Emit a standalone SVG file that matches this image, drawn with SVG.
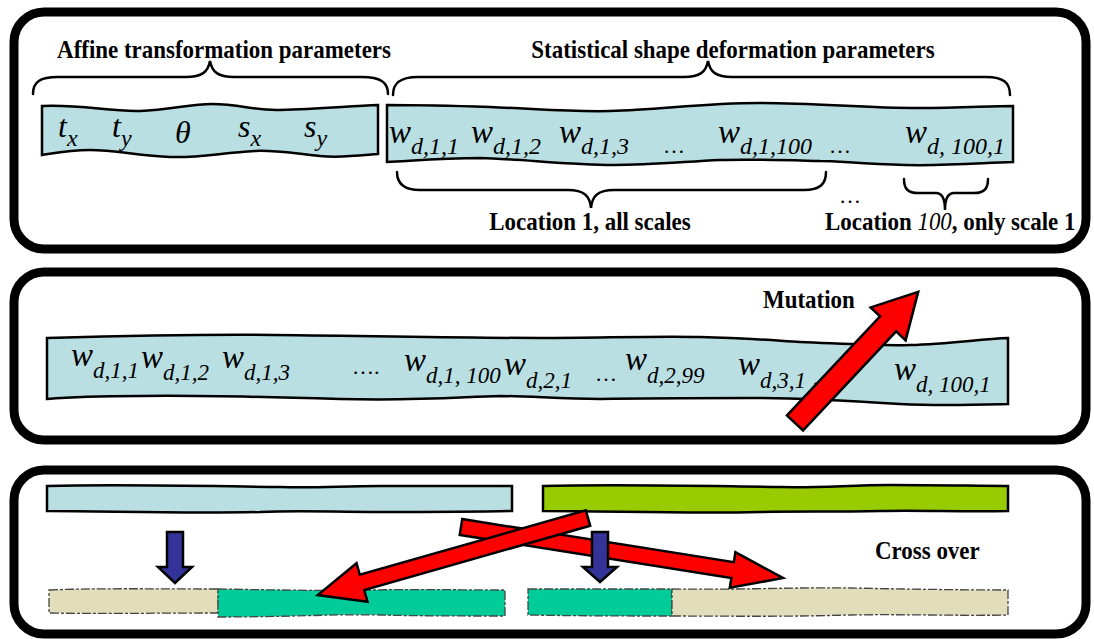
<svg xmlns="http://www.w3.org/2000/svg" width="1094" height="639" viewBox="0 0 1094 639">
  <style>
    .panel { fill: #ffffff; stroke: #000000; stroke-width: 9; }
    .band { fill: #B9DFE3; stroke: #000000; stroke-width: 2.5; stroke-linejoin: miter; }
    .green { fill: #99CC00; stroke: #000000; stroke-width: 2.5; }
    .teal { fill: #00CC99; stroke: #444444; stroke-width: 1.3; stroke-dasharray: 9 2 3 2; }
    .tan { fill: #E2DEBB; stroke: #444444; stroke-width: 1.3; stroke-dasharray: 9 2 3 2; }
    .brace { fill: none; stroke: #000000; stroke-width: 2.5; stroke-linecap: round; }
    .red { fill: #FF0000; stroke: #000000; stroke-width: 2.5; stroke-linejoin: miter; }
    .blue { fill: #333399; stroke: #000000; stroke-width: 2.5; stroke-linejoin: miter; }
    .lbl { font-family: "Liberation Serif", "Times New Roman", serif; font-weight: bold; font-size: 25.5px; fill: #000000; }
    .m0 { font-family: "Liberation Serif", "Times New Roman", serif; font-style: italic; font-size: 32px; fill: #000000; }
    .m1 { font-family: "Liberation Serif", "Times New Roman", serif; font-style: italic; font-size: 33px; fill: #000000; }
    .s0 { font-size: 24px; }
    .s1 { font-size: 24px; }
    .s2 { font-size: 23px; }
    .dots { font-family: "Liberation Serif", "Times New Roman", serif; font-size: 22px; fill: #000000; }
  </style>

  <!-- Panel 1: chromosome layout -->
  <g id="panel-layout">
    <rect class="panel" x="14" y="12" width="1072" height="237" rx="30" ry="30"/>
    <text class="lbl" transform="translate(224,58) scale(0.9,1)" text-anchor="middle">Affine transformation parameters</text>
    <text class="lbl" transform="translate(733,58) scale(0.9,1)" text-anchor="middle">Statistical shape deformation parameters</text>
    <path class="brace" d="M33,94 C33,82 40,77 58,77 L186,77 C202,77 208,72 210,61 C212,72 218,77 234,77 L362,77 C380,77 388,82 388,94"/>
    <path class="brace" d="M393,95 C393,83 400,77 418,77 L684,77 C700,77 706,72 708,61 C710,72 716,77 732,77 L986,77 C1004,77 1010,83 1010,95"/>
  </g>

  <g id="affine-band">
    <path class="band" d="M42,106 C80,104 110,112 140,111 C170,110 190,104 212,104 C240,104 255,111 280,110 C320,109 350,106 378,105 L378,154 C355,156 340,158 320,156 C290,153 275,150 255,151 C220,153 200,158 170,157 C140,156 115,150 90,150 C70,150 55,153 42,155 Z"/>
    <text class="m0" x="58" y="137">t<tspan class="s0" dy="9">x</tspan></text>
    <text class="m0" x="112" y="137">t<tspan class="s0" dy="9">y</tspan></text>
    <text class="m0" x="175" y="143">θ</text>
    <text class="m0" x="238" y="137">s<tspan class="s0" dy="9">x</tspan></text>
    <text class="m0" x="304" y="137">s<tspan class="s0" dy="9">y</tspan></text>
  </g>

  <g id="shape-band">
    <path class="band" d="M387,105 C430,105 460,106 490,107 C540,109 570,112 610,111 C660,110 700,103 760,103 C820,103 860,108 920,108 C960,108 990,106 1013,106 L1013,162 C980,163 950,166 905,165 C860,164 840,161 820,161 C780,160 750,159 720,160 C680,162 650,165 613,165 C570,165 520,159 480,158 C440,158 410,161 387,162 Z"/>
    <text class="m1" x="389" y="143">w<tspan class="s1" dy="11">d,1,1</tspan></text>
    <text class="m1" x="471" y="143">w<tspan class="s1" dy="11">d,1,2</tspan></text>
    <text class="m1" x="559" y="143">w<tspan class="s1" dy="11">d,1,3</tspan></text>
    <text class="dots" x="663" y="153">…</text>
    <text class="m1" x="718" y="143">w<tspan class="s1" dy="11">d,1,100</tspan></text>
    <text class="dots" x="829" y="153">…</text>
    <text class="m1" x="905" y="143">w<tspan class="s1" dy="11">d, 100,1</tspan></text>
  </g>

  <g id="location-braces">
    <path class="brace" d="M397,172 C397,184 404,190 420,190 L568,190 C584,190 590,196 591,208 C592,196 598,190 614,190 L804,190 C820,190 826,184 826,172"/>
    <path class="brace" d="M904,179 C904,189 908,193 918,193 L936,193 C942,193 945,199 945,210 C945,199 948,193 954,193 L974,193 C984,193 988,189 988,179"/>
    <text class="dots" x="839" y="203" font-size="18">…</text>
    <text class="lbl" transform="translate(590,230) scale(0.9,1)" text-anchor="middle">Location 1, all scales</text>
    <text class="lbl" transform="translate(825,230) scale(0.9,1)">Location <tspan font-style="italic" font-weight="normal">100</tspan>, only scale 1</text>
  </g>

  <!-- Panel 2: mutation -->
  <g id="panel-mutation">
    <rect class="panel" x="14" y="272" width="1072" height="168" rx="30" ry="30"/>
    <path class="band" d="M47,338 C120,336 200,334 273,335 C380,336 460,338 540,338 C600,338 650,336 700,337 C750,338 780,341 800,342 C850,344 880,346 910,345 C950,344 980,339 1008,338 L1008,404 C970,405 940,406 900,404 C850,401 800,398 750,398 C700,398 650,398 600,399 C560,399 530,396 500,396 C460,397 420,401 340,399 C270,397 200,395 140,396 C100,396 70,397 47,399 Z"/>
    <text class="m1" x="71" y="366">w<tspan class="s2" dy="12">d,1,1</tspan></text>
    <text class="m1" x="141" y="368">w<tspan class="s2" dy="12">d,1,2</tspan></text>
    <text class="m1" x="222" y="368">w<tspan class="s2" dy="12">d,1,3</tspan></text>
    <text class="dots" x="352" y="374">….</text>
    <text class="m1" x="404" y="371">w<tspan class="s2" dy="12">d,1, 100</tspan></text>
    <text class="m1" x="504" y="375">w<tspan class="s2" dy="13">d,2,1</tspan></text>
    <text class="dots" x="595" y="381">…</text>
    <text class="m1" x="625" y="370">w<tspan class="s2" dy="13">d,2,99</tspan></text>
    <text class="m1" x="738" y="375">w<tspan class="s2" dy="13">d,3,1</tspan></text>
    <text class="dots" x="812" y="385">…</text>
    <text class="m1" x="894" y="380">w<tspan class="s2" dy="12">d, 100,1</tspan></text>
    <text class="lbl" transform="translate(763,308) scale(0.9,1)">Mutation</text>
  </g>

  <!-- Panel 3: cross over -->
  <g id="panel-crossover">
    <rect class="panel" x="14" y="470" width="1072" height="164" rx="30" ry="30"/>
    <text class="lbl" transform="translate(875,559) scale(0.9,1)">Cross over</text>
  </g>

  <g id="parent-a">
    <path class="band" d="M47,486 C120,484 200,486 280,487 C320,488 340,486 380,486 C440,486 480,486 512,486 L512,511 C470,512 420,512 380,512 C330,512 300,510 260,512 C180,514 110,511 47,511 Z"/>
  </g>
  <g id="parent-b">
    <path class="green" d="M543,486 C620,484 700,486 780,487 C820,488 850,485 890,485 C940,485 980,486 1008,486 L1008,511 C960,512 920,510 880,511 C830,512 800,511 760,512 C690,514 610,511 543,511 Z"/>
  </g>

  <g id="child-a">
    <path class="tan" d="M49,590 C100,588 150,589 218,589 L218,613 C150,613 100,614 49,613 Z"/>
    <path class="teal" d="M218,589 C280,590 330,591 370,590 C420,589 460,590 505,590 L505,616 C460,616 420,616 380,615 C330,614 290,617 218,617 Z"/>
  </g>
  <g id="child-b">
    <path class="teal" d="M528,589 C580,589 630,589 672,589 L672,616 C630,616 580,616 528,615 Z"/>
    <path class="tan" d="M672,589 C740,590 800,587 850,588 C900,589 960,590 1008,590 L1008,615 C960,616 900,614 850,615 C780,617 720,616 672,616 Z"/>
  </g>

  <!-- Arrows -->
  <g id="connectors">
    <polygon class="red" points="0,-11 136,-11 136,-24 180,0 136,24 136,11 0,11" transform="translate(795,423) rotate(-46.8)"/>
    <polygon class="red" points="0,-8 275,-8 275,-18 326,0 275,18 275,8 0,8" transform="translate(461,527) rotate(9)"/>
    <polygon class="red" points="0,-8 235,-8 235,-20 281,0 235,20 235,8 0,8" transform="translate(588,518) rotate(164.08)"/>
    <polygon class="blue" points="167,532 183,532 183,567 192,567 175,583 158,567 167,567"/>
    <polygon class="blue" points="592,532 608,532 608,567 617,567 600,582 583,567 592,567"/>
  </g>
</svg>
